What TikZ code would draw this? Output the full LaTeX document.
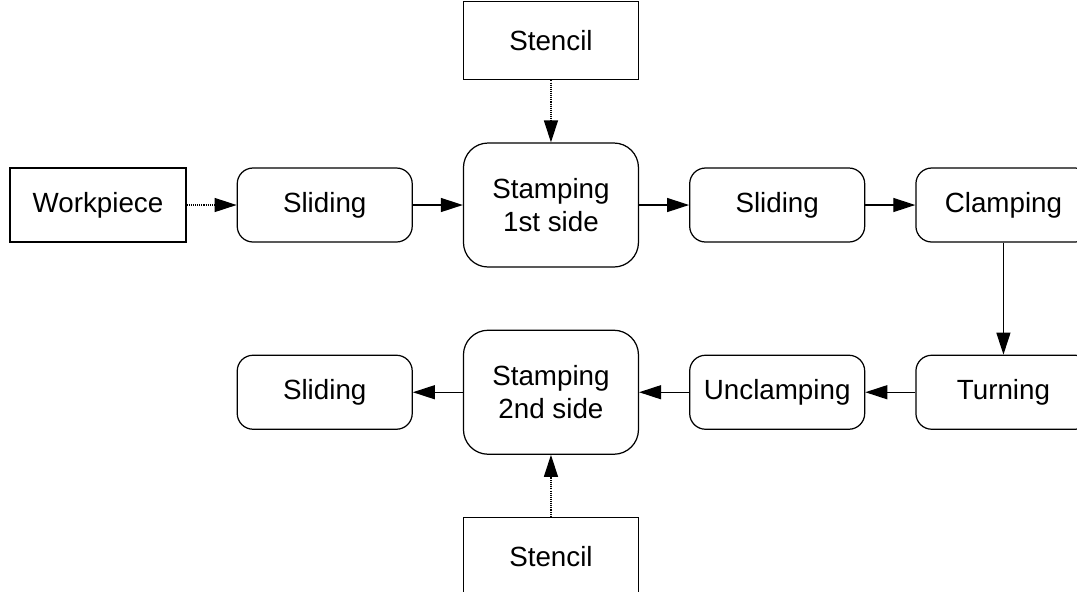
\documentclass[tikz,border=0pt]{standalone}
\usepackage{fontspec}
\setmainfont{Liberation Sans}
\usetikzlibrary{arrows.meta, positioning}

\tikzset{
    proc/.style={draw, line width=0.7pt, rounded corners=9pt, minimum width=3.5cm, minimum height=1.48cm, inner sep=0pt, align=center},
    stampbox/.style={proc, rounded corners=14pt, minimum height=2.48cm},
    source/.style={draw, line width=0.7pt, minimum width=3.5cm, minimum height=1.56cm, inner sep=0pt},
    flow/.style={-{Triangle[length=0.44cm, width=0.28cm]}, line width=0.7pt},
    feed/.style={flow, dash pattern=on 0.6pt off 0.6pt}
}

\begin{document}
\begin{tikzpicture}[node distance=1cm, font=\fontsize{15.8}{19}\selectfont]
\useasboundingbox (0,0) rectangle (21.54,-11.82);

% upper row
\node[source, minimum height=1.48cm, minimum width=3.52cm] (work) at (1.96,-4.10) {Workpiece};
\node[proc, right=of work] (slide1) {Sliding};
\node[stampbox, right=of slide1] (stamp1) {Stamping\\1st side};
\node[proc, right=of stamp1] (slide2) {Sliding};
\node[proc, right=of slide2] (clamp) {Clamping};

% lower row, running back to the left
\node[proc, below=2.24cm of clamp] (turn) {Turning};
\node[proc, left=of turn] (unclamp) {Unclamping};
\node[stampbox, left=of unclamp] (stamp2) {Stamping\\2nd side};
\node[proc, left=of stamp2] (slide3) {Sliding};

% stencils
\node[source, above=1.24cm of stamp1] (sten1) {Stencil};
\node[source, below=1.24cm of stamp2] (sten2) {Stencil};

\draw[feed] (work) -- (slide1);
\draw[feed] (sten1) -- (stamp1);
\draw[feed] (sten2) -- (stamp2);
\draw[flow] (slide1) -- (stamp1);
\draw[flow] (stamp1) -- (slide2);
\draw[flow] (slide2) -- (clamp);
\draw[flow] (clamp) -- (turn);
\draw[flow] (turn) -- (unclamp);
\draw[flow] (unclamp) -- (stamp2);
\draw[flow] (stamp2) -- (slide3);
\end{tikzpicture}
\end{document}
